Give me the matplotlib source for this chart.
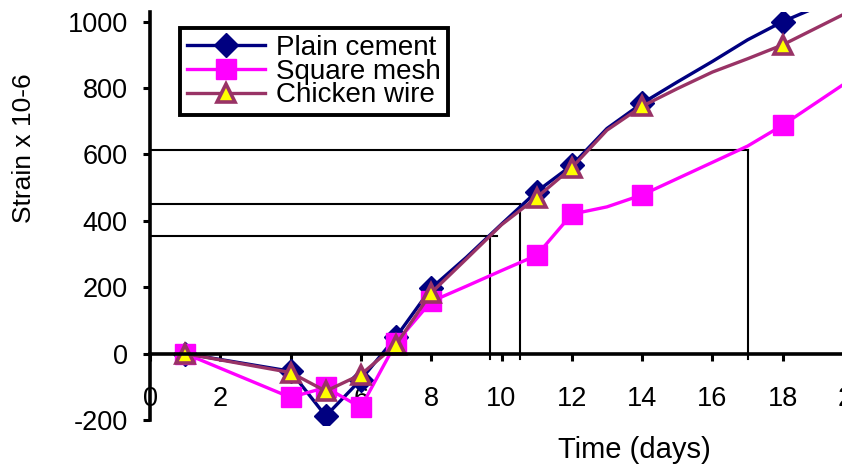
import matplotlib
matplotlib.use("Agg")
import matplotlib.pyplot as plt
from matplotlib.lines import Line2D

plt.rcParams['font.family'] = ['Liberation Sans', 'DejaVu Sans']
plt.rcParams['axes.unicode_minus'] = False

########
# Data #
########
days = [1, 4, 5, 6, 7, 8, 9, 10, 11, 12, 13, 14, 15, 16, 17, 18, 19, 20]
marked_days = [1, 4, 5, 6, 7, 8, 11, 12, 14, 18]

plain_cement = [0, -53, -188, -78, 50, 197, 290, 390, 488, 567, 678, 754, 818, 880, 945, 1000, 1045, 1090]
square_mesh = [0, -132, -102, -162, 33, 157, 203, 250, 296, 420, 442, 478, 527, 576, 625, 688, 759, 830]
chicken_wire = [0, -57, -113, -63, 27, 183, 285, 388, 470, 560, 673, 745, 798, 848, 888, 930, 983, 1036]

# strain levels read back to a time (thin black guide lines)
guide_strain = [354, 450, 613]
guide_time = [9.67, 10.53, 17.0]
guide_h_end = [9.87, 10.53, 17.0]

x_ticks = list(range(0, 21, 2))
y_ticks = list(range(-200, 1001, 200))

series = [
    ('Plain cement', plain_cement, dict(color='#000080', marker='D', ms=12, mfc='#000080', mec='#000080', mew=1)),
    ('Square mesh', square_mesh, dict(color='#FF00FF', marker='s', ms=15, mfc='#FF00FF', mec='#FF00FF', mew=1)),
    ('Chicken wire', chicken_wire, dict(color='#993366', marker='^', ms=13.5, mfc='#FFFF00', mec='#993366', mew=2.6)),
]

############
# Plotting #
############
fig = plt.figure(figsize=(8.42, 4.70), dpi=100)
ax = fig.add_axes([150 / 842, 1 - 425 / 470, 703 / 842, (425 - 12.3) / 470])
ax.set_xlim(0, 20)
ax.set_ylim(-215, 1028)

# guide lines
for s, t, e in zip(guide_strain, guide_time, guide_h_end):
    ax.plot([0, e], [s, s], color='black', lw=1.5, zorder=2)
    ax.plot([t, t], [s, -15], color='black', lw=1.5, zorder=2)

handles = []
z = 3
for label, vals, st in series:
    ax.plot(days, vals, color=st['color'], lw=2.4, zorder=z)
    mx = [d for d in days if d in marked_days]
    my = [v for d, v in zip(days, vals) if d in marked_days]
    ax.plot(mx, my, linestyle='none', marker=st['marker'], ms=st['ms'],
            mfc=st['mfc'], mec=st['mec'], mew=st['mew'], zorder=z + 0.5)
    handles.append(Line2D([], [], color=st['color'], lw=2.4, marker=st['marker'], ms=st['ms'],
                          mfc=st['mfc'], mec=st['mec'], mew=st['mew'], label=label))
    z += 1

# axes look (excel style)
ax.spines['top'].set_visible(False)
ax.spines['right'].set_visible(False)
ax.spines['bottom'].set_position(('data', 0))
ax.spines['left'].set_bounds(-200, 1028)
for sp in ('left', 'bottom'):
    ax.spines[sp].set_linewidth(2.6)
    ax.spines[sp].set_zorder(6)

ax.set_xticks(x_ticks)
ax.set_yticks(y_ticks)
ax.tick_params(axis='both', direction='out', length=5, width=2.2, labelsize=19.5)
ax.tick_params(axis='x', pad=18)
ax.tick_params(axis='y', pad=11)

leg = ax.legend(handles=handles, loc='upper left', bbox_to_anchor=(180 / 842, 1 - 28 / 470),
                bbox_transform=fig.transFigure, borderaxespad=0, fancybox=False,
                edgecolor='black', framealpha=1, fontsize=20, handlelength=2.8,
                handletextpad=0.4, labelspacing=-0.08, borderpad=0.25)
leg.get_frame().set_linewidth(2.8)
leg.set_zorder(10)

fig.text(24 / 842, 1 - 148 / 470, 'Strain x 10-6', rotation=90, ha='center', va='center', fontsize=19)
fig.text(634 / 842, 1 - 450 / 470, 'Time (days)', ha='center', va='center', fontsize=21)

fig.savefig('out.png', dpi=100)
